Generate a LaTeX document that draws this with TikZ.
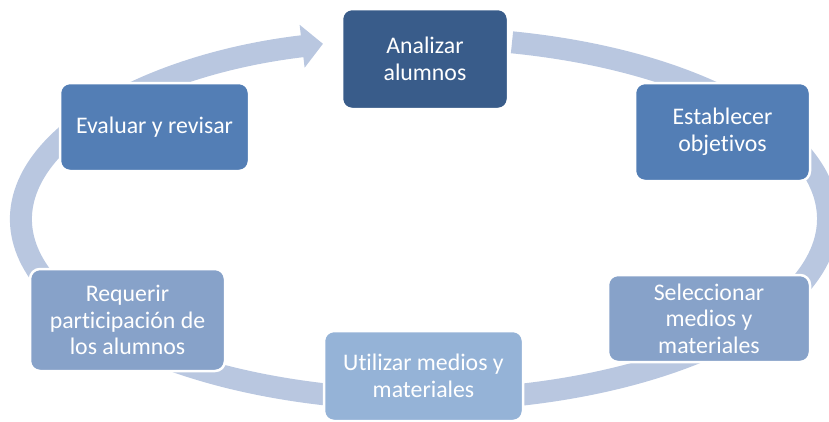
\documentclass[tikz,border=0pt]{standalone}
\usepackage{fontspec}
\setmainfont{Carlito}[Ligatures=NoCommon]
\usetikzlibrary{arrows.meta}
\definecolor{ringc}{RGB}{185,199,224}
\definecolor{cdark}{RGB}{57,92,138}
\definecolor{cmid}{RGB}{83,126,181}
\definecolor{clight}{RGB}{135,162,201}
\definecolor{clighter}{RGB}{149,179,215}
\begin{document}
\begin{tikzpicture}[x=1pt,y=-1pt,
  box/.style={draw=white, line width=2.5pt, rounded corners=10pt, text=white,
    align=center, font=\fontsize{23.8}{26.5}\selectfont, inner sep=0pt},
  ring/.style={draw=ringc, line width=22pt, -{Triangle[length=21pt,width=42pt]}}
]
\useasboundingbox (0,0) rectangle (829,421);
\coordinate (ringstart) at (512,42.3);
\draw[ring] (ringstart) arc[start angle=77.47, end angle=-255.43, x radius=403.5pt, y radius=181pt];
\node[box, fill=cdark, minimum width=166pt, minimum height=100pt] (n1) at (425,59) {Analizar\\alumnos};
\node[box, fill=cmid, minimum width=175pt, minimum height=98pt] (n2) at (722.5,132) {Establecer\\objetivos};
\node[box, fill=clight, minimum width=202pt, minimum height=87pt] (n3) at (709,318.5) {Seleccionar\\medios y\\materiales};
\node[box, fill=clighter, minimum width=199pt, minimum height=90pt] (n4) at (423.5,376) {Utilizar medios y\\materiales};
\node[box, fill=clight, minimum width=195pt, minimum height=102pt] (n5) at (127.5,320) {Requerir\\participación de\\los alumnos};
\node[box, fill=cmid, minimum width=189pt, minimum height=88pt] (n6) at (154.5,127) {Evaluar y revisar};
\end{tikzpicture}
\end{document}
